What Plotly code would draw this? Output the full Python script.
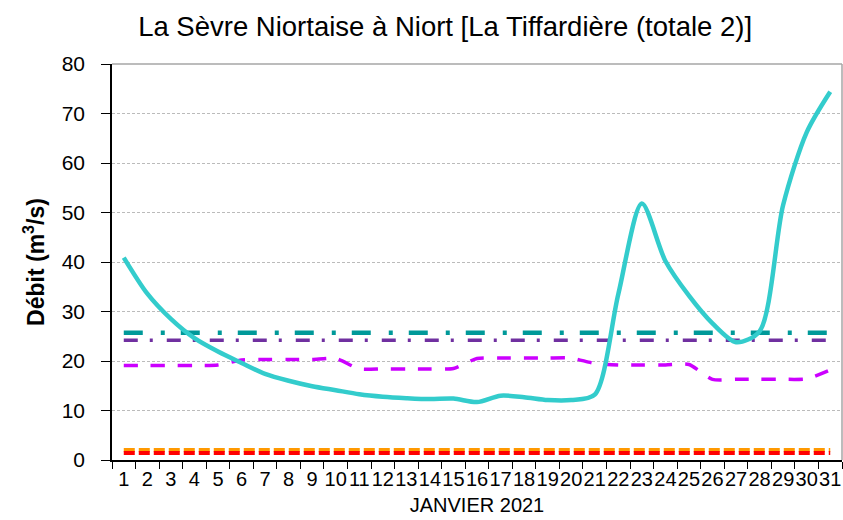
import plotly.graph_objects as go

days = [str(d) for d in range(1, 32)]

debit = [40.9, 33.6, 28.5, 24.6, 21.9, 19.6, 17.4, 16.0, 14.9, 14.1,
         13.3, 12.8, 12.5, 12.3, 12.4, 11.7, 13.0, 12.7, 12.1, 12.1,
         13.2, 33.5, 51.8, 40.2, 33.2, 27.6, 23.8, 26.0, 51.5, 66.2, 74.4]

seuil_magenta = [19.1, 19.1, 19.1, 19.1, 19.2, 20.2, 20.3, 20.3, 20.3, 20.5,
                 18.4, 18.4, 18.4, 18.4, 18.5, 20.5, 20.6, 20.6, 20.6, 20.6,
                 19.5, 19.2, 19.2, 19.2, 19.3, 16.3, 16.3, 16.3, 16.3, 16.4, 18.2]

seuil_teal = [25.7] * 31
seuil_violet = [24.2] * 31
seuil_orange = [2.0] * 31
seuil_rouge = [1.4] * 31

fig = go.Figure()

fig.add_trace(go.Scatter(x=days, y=seuil_orange, mode="lines",
                         line=dict(color="#FF9900", width=4, dash="11px,4px")))
fig.add_trace(go.Scatter(x=days, y=seuil_rouge, mode="lines",
                         line=dict(color="#FF0000", width=4, dash="11px,4px")))
fig.add_trace(go.Scatter(x=days, y=seuil_magenta, mode="lines",
                         line=dict(color="#CC00FF", width=3.5, dash="14px,13px", shape="spline", smoothing=0.6)))
fig.add_trace(go.Scatter(x=days, y=seuil_violet, mode="lines",
                         line=dict(color="#7030A0", width=3.5, dash="14px,12px,3px,14px")))
fig.add_trace(go.Scatter(x=days, y=seuil_teal, mode="lines",
                         line=dict(color="#009999", width=4.5, dash="19px,18px,4px,16px")))
fig.add_trace(go.Scatter(x=days, y=debit, mode="lines",
                         line=dict(color="#33CCCC", width=4.5, shape="spline", smoothing=0.8)))

fig.update_layout(
    width=843, height=520,
    margin=dict(l=112, r=1, t=64, b=60, autoexpand=False),
    paper_bgcolor="white", plot_bgcolor="white",
    showlegend=False,
    font=dict(family="Liberation Sans, Arial, sans-serif", color="black"),
    title=dict(text="La Sèvre Niortaise à Niort [La Tiffardière (totale 2)]",
               x=0.528, xanchor="center", y=0.949, yanchor="middle",
               font=dict(size=27.5, color="black")),
    xaxis=dict(type="category", range=[-0.5, 30.5], tickson="boundaries",
               tickmode="array", tickvals=days, ticktext=days, tickangle=0,
               ticks="outside", ticklen=7, tickcolor="black",
               showline=True, linecolor="black", linewidth=1.5,
               showgrid=False, tickfont=dict(size=20), automargin=False,
               title=dict(text="JANVIER 2021", font=dict(size=20), standoff=9)),
    yaxis=dict(range=[0, 80], dtick=10, ticks="outside", ticklen=9, tickcolor="black",
               showline=True, linecolor="black", linewidth=1.5,
               showgrid=True, gridcolor="#BBBBBB", gridwidth=1, griddash="3px,2px",
               zeroline=False, tickfont=dict(size=21), ticklabelstandoff=12,
               automargin=False,
               title=dict(text="<b>Débit (m<sup>3</sup>/s)</b>", font=dict(size=23), standoff=11)),
    shapes=[
        dict(type="line", xref="paper", yref="paper", x0=0, x1=1, y0=1, y1=1,
             line=dict(color="#A6A6A6", width=1.5)),
        dict(type="line", xref="paper", yref="paper", x0=1, x1=1, y0=0, y1=1,
             line=dict(color="#A6A6A6", width=1.5)),
    ],
)

fig.write_html("out.html", config={"displayModeBar": False},
               post_script="document.body.style.margin='0';document.body.style.overflow='hidden';")
